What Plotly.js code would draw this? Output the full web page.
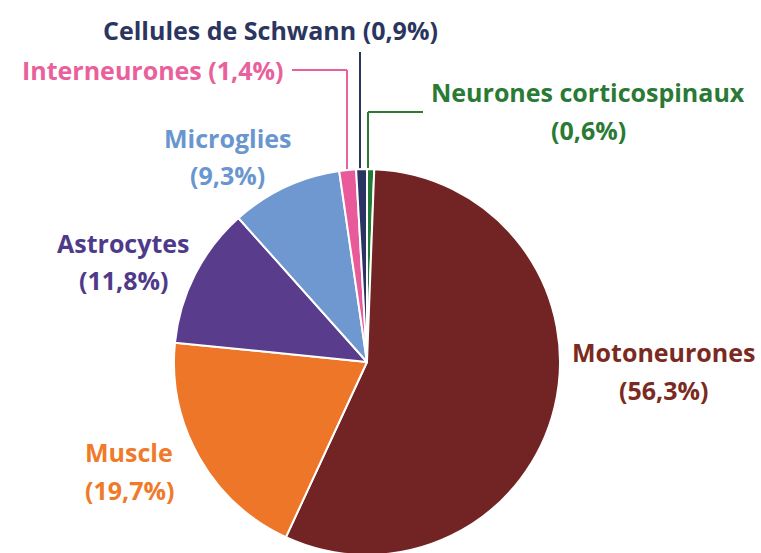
<!DOCTYPE html>
<html><head><meta charset="utf-8">
<script src="https://cdn.plot.ly/plotly-3.0.1.min.js"></script>
<style>html,body{margin:0;padding:0;overflow:hidden;background:#fff}</style>
</head><body><div id="chart"></div>
<script>
const labels = ["Neurones corticospinaux","Motoneurones","Muscle","Astrocytes","Microglies","Interneurones","Cellules de Schwann"];
const values = [0.6, 56.3, 19.7, 11.8, 9.3, 1.4, 0.9];
const sliceColors = ["#237A36","#722424","#EE7628","#5A3C8C","#6F98D0","#E85A9A","#2A3362"];
const textColors = ["#2A7A35","#7B2A22","#F07A2A","#4F3A8A","#6A96CF","#E8609C","#2B3560"];

const W = 761, H = 557;
const px = x => x / W, py = y => 1 - y / H;
const fmt = v => "(" + v.toFixed(1).replace(".", ",") + "%)";

const place = {
  "Neurones corticospinaux": {x: 588, y1: 92, y2: 130, anchor: "center"},
  "Motoneurones": {x: 663, y1: 352, y2: 390, anchor: "center"},
  "Muscle": {x: 129, y1: 452, y2: 490, anchor: "center"},
  "Astrocytes": {x: 123, y1: 243, y2: 280, anchor: "center"},
  "Microglies": {x: 227, y1: 138, y2: 175, anchor: "center"},
  "Interneurones": {x: 285, y1: 70, y2: null, anchor: "right"},
  "Cellules de Schwann": {x: 270, y1: 30, y2: null, anchor: "center"}
};

const FS = 25;
const annotations = [];
labels.forEach((lab, i) => {
  const p = place[lab];
  const font = {family: "'Open Sans', Lato, sans-serif", size: FS, color: textColors[i], weight: 700};
  if (p.y2 === null) {
    annotations.push({xref: "paper", yref: "paper", x: px(p.x), y: py(p.y1), xanchor: p.anchor, yanchor: "middle",
      text: "<b>" + lab + " " + fmt(values[i]) + "</b>", showarrow: false, font});
  } else {
    annotations.push({xref: "paper", yref: "paper", x: px(p.x), y: py(p.y1), xanchor: p.anchor, yanchor: "middle",
      text: "<b>" + lab + "</b>", showarrow: false, font});
    annotations.push({xref: "paper", yref: "paper", x: px(p.x), y: py(p.y2), xanchor: p.anchor, yanchor: "middle",
      text: "<b>" + fmt(values[i]) + "</b>", showarrow: false, font});
  }
});

function seg(x0, y0, x1, y1, color) {
  return {type: "line", xref: "paper", yref: "paper", x0: px(x0), y0: py(y0), x1: px(x1), y1: py(y1),
    line: {color, width: 2}, layer: "below"};
}
const shapes = [
  seg(292, 70, 347, 70, "#E8609C"), seg(347, 70, 347, 172, "#E8609C"),
  seg(360, 52, 360, 172, "#2B3560"),
  seg(368, 112, 423, 112, "#2A7A35"), seg(368, 112, 368, 172, "#2A7A35")
];

const cx = 367, cy = 362, r = 193;
const trace = {
  type: "pie", labels, values, sort: false, direction: "clockwise", rotation: 0,
  marker: {colors: sliceColors, line: {color: "#ffffff", width: 2}},
  textinfo: "none", hoverinfo: "label+percent",
  domain: {x: [px(cx - r), px(cx + r)], y: [py(cy + r), py(cy - r)]}
};

Plotly.newPlot("chart", [trace], {
  width: W, height: H, margin: {l: 0, r: 0, t: 0, b: 0},
  showlegend: false, paper_bgcolor: "#ffffff",
  annotations, shapes
}, {displayModeBar: false, staticPlot: true});
</script></body></html>
